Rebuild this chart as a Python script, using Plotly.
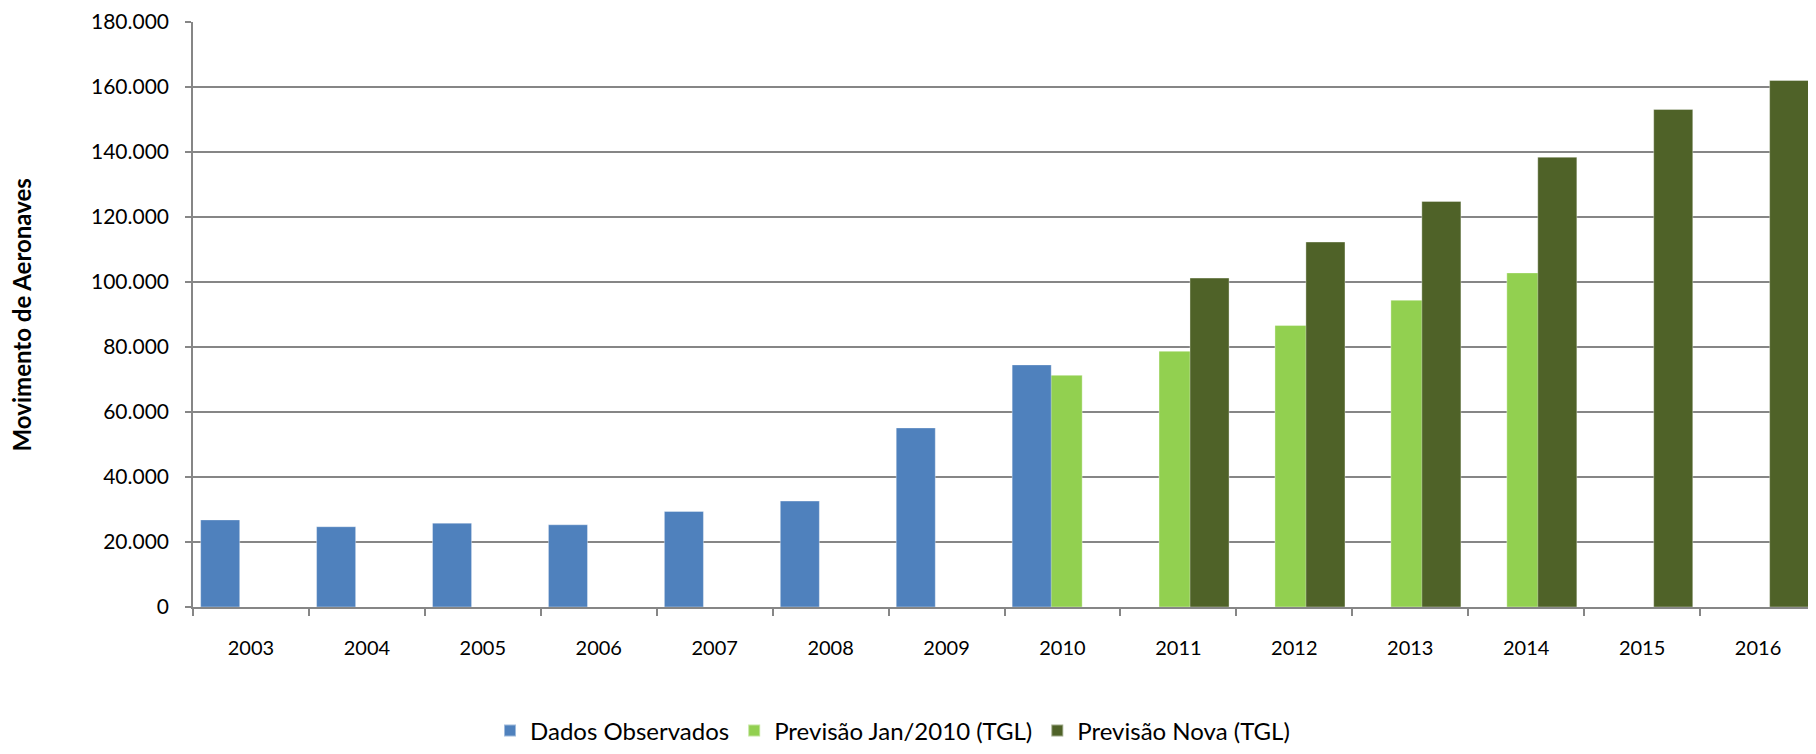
import plotly.graph_objects as go

years = ["2003", "2004", "2005", "2006", "2007", "2008", "2009",
         "2010", "2011", "2012", "2013", "2014", "2015", "2016"]
observados = [26800, 24700, 25800, 25300, 29400, 32600, 55100,
              74500, None, None, None, None, None, None]
previsao_jan2010 = [None, None, None, None, None, None, None,
                    71300, 78700, 86600, 94400, 102800, None, None]
previsao_nova = [None, None, None, None, None, None, None,
                 None, 101200, 112300, 124800, 138400, 153100, 162000]

names = ["Dados Observados", "Previsão Jan/2010 (TGL)", "Previsão Nova (TGL)"]
colors = ["#4F81BD", "#92D050", "#4F6228"]
edge = "rgba(255,255,255,0.45)"

FONT = "Lato, 'Open Sans', sans-serif"
W = 0.337

fig = go.Figure()
# draw order: light green first, so blue and dark green overlap it
fig.add_trace(go.Bar(x=years, y=previsao_jan2010, name=names[1],
                     marker=dict(color=colors[1], line=dict(width=0.8, color=edge)),
                     width=W, offset=-0.167, legendrank=2))
fig.add_trace(go.Bar(x=years, y=observados, name=names[0],
                     marker=dict(color=colors[0], line=dict(width=0.8, color=edge)),
                     width=W, offset=-0.434, legendrank=1))
fig.add_trace(go.Bar(x=years, y=previsao_nova, name=names[2],
                     marker=dict(color=colors[2], line=dict(width=0.8, color=edge)),
                     width=W, offset=0.100, legendrank=3))

fig.update_layout(
    width=1808, height=746,
    margin=dict(l=185, r=0, t=11, b=142),
    paper_bgcolor="white", plot_bgcolor="white",
    barmode="overlay",
    separators=",.",
    font=dict(family=FONT, size=20, color="#000000"),
    showlegend=True,
    legend=dict(orientation="h", x=0.431, xanchor="center",
                y=-0.212, yanchor="middle",
                font=dict(family=FONT, size=24, color="#000000"),
                itemsizing="constant"),
    xaxis=dict(type="category", range=[-0.5, 13.5],
               showgrid=False, showline=True, linecolor="#868686", linewidth=1.5,
               ticks="outside", tickson="boundaries", ticklen=7,
               tickcolor="#868686", tickwidth=1.5,
               ticklabelstandoff=22,
               tickfont=dict(family=FONT, size=20)),
    yaxis=dict(range=[0, 180000], dtick=20000, tickformat=",d",
               showgrid=True, gridcolor="#868686", gridwidth=1.5,
               zeroline=False, showline=True, linecolor="#868686", linewidth=1.5,
               ticks="outside", ticklen=6, tickcolor="#868686", tickwidth=1.5,
               ticklabelstandoff=12, ticklabeloverflow="allow",
               tickfont=dict(family=FONT, size=21)),
    annotations=[dict(text="<b>Movimento de Aeronaves</b>", textangle=-90,
                      xref="paper", yref="paper", x=-0.1054, y=0.5,
                      xanchor="center", yanchor="middle", showarrow=False,
                      font=dict(family=FONT, size=24, color="#000000"))],
)

fig.write_html("out.html")
